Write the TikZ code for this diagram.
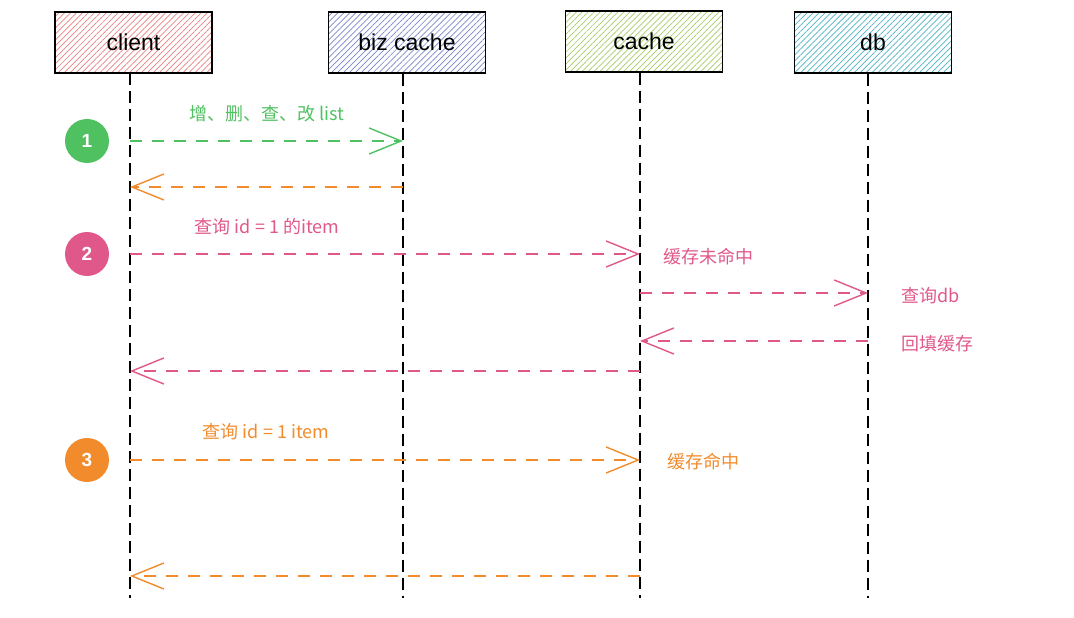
\documentclass[tikz,border=0pt]{standalone}
\usepackage{fontspec}
\setmainfont{Liberation Sans}
\newfontfamily\cjk{Noto Sans CJK SC}
\usepackage{tikz}
\usetikzlibrary{arrows.meta,patterns.meta,calc}
\definecolor{hatchred}{HTML}{E88080}
\definecolor{hatchblue}{HTML}{7986CB}
\definecolor{hatchgreen}{HTML}{A6CB65}
\definecolor{hatchteal}{HTML}{4DB3C2}
\definecolor{okgreen}{HTML}{4FC160}
\definecolor{rose}{HTML}{E0588A}
\definecolor{amber}{HTML}{F28B2C}
\tikzset{actor/.style={draw=black,line width=1.1pt,minimum width=157pt,minimum height=61pt,inner sep=0pt,font=\fontsize{23}{27}\selectfont,pattern={Lines[angle=45,distance=4.2pt,line width=0.7pt]}},life/.style={draw=black,line width=1.4pt,dash pattern=on 12pt off 6pt},msg/.style={line width=1.4pt,dash pattern=on 12pt off 10pt,-{Straight Barb[length=32pt,width=26pt,line width=1.4pt]}},badge/.style={circle,minimum size=44pt,inner sep=0pt,text=white,font=\bfseries\fontsize{19}{22}\selectfont}}
\begin{document}
\begin{tikzpicture}[x=1pt,y=-1pt,
lbl/.style={font=\cjk\fontsize{18}{21}\selectfont},
side/.style={font=\cjk\fontsize{18}{21}\selectfont,anchor=west}]
\useasboundingbox (0,0) rectangle (1074,618);
\node[actor,pattern color=hatchred] (client) at (133.5,42.5) {client};
\node[actor,pattern color=hatchblue] (biz) at (407,42.5) {biz cache};
\node[actor,pattern color=hatchgreen] (cache) at (644,41.5) {cache};
\node[actor,pattern color=hatchteal] (db) at (873,42.5) {db};
\coordinate (clientx) at (130,0);
\coordinate (bizx) at (403,0);
\coordinate (cachex) at (640,0);
\coordinate (dbx) at (868,0);
\coordinate (bottom) at (0,598);
\draw[life] (clientx |- client.south)--(clientx |- bottom);
\draw[life] (bizx |- biz.south)--(bizx |- bottom);
\draw[life] (cachex |- cache.south)--(cachex |- bottom);
\draw[life] (dbx |- db.south)--(dbx |- bottom);
\node[badge,fill=okgreen] (s1) at (87,141) {1};
\node[badge,fill=rose] (s2) at (87,254) {2};
\node[badge,fill=amber] (s3) at (87,460) {3};
\coordinate (m1) at (0,141);
\coordinate (m2) at (0,187);
\coordinate (m3) at (0,254);
\coordinate (m4) at (0,293);
\coordinate (m5) at (0,341);
\coordinate (m6) at (0,371);
\coordinate (m7) at (0,460);
\coordinate (m8) at (0,576);
\draw[msg,okgreen] (clientx |- m1)--(bizx |- m1);
\draw[msg,amber] (bizx |- m2)--(clientx |- m2);
\draw[msg,rose] (clientx |- m3)--(cachex |- m3);
\draw[msg,rose] (cachex |- m4)--(dbx |- m4);
\draw[msg,rose] (dbx |- m5)--(cachex |- m5);
\draw[msg,rose] (cachex |- m6)--(clientx |- m6);
\draw[msg,amber] (clientx |- m7)--(cachex |- m7);
\draw[msg,amber] (cachex |- m8)--(clientx |- m8);
\node[lbl,text=okgreen] (t1) at (267,114) {增、删、查、改 list};
\node[lbl,text=rose] (t2) at (267,227) {查询 id = 1 的item};
\node[side,text=rose] (t3) at (660,257) {缓存未命中};
\node[side,text=rose] (t4) at (898,296) {查询db};
\node[side,text=rose] (t5) at (898,344) {回填缓存};
\node[lbl,text=amber] (t6) at (266,432) {查询 id = 1 item};
\node[side,text=amber] (t7) at (664,462) {缓存命中};
\end{tikzpicture}
\end{document}
